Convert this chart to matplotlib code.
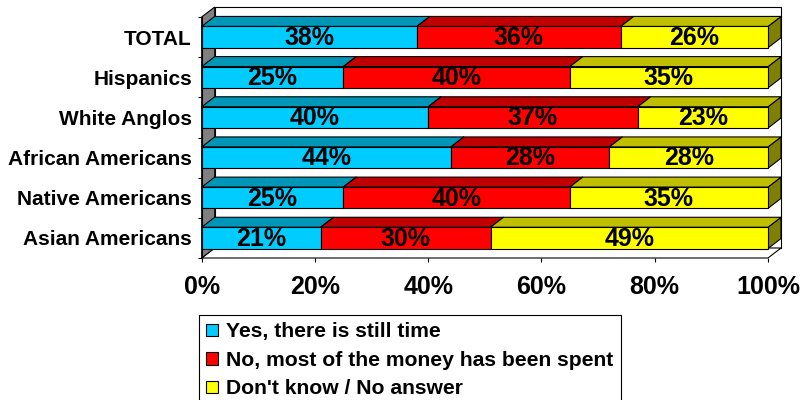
import numpy as np
import matplotlib
matplotlib.use('Agg')
from matplotlib import pyplot as plt
from matplotlib.patches import Polygon, Patch

plt.rcParams['font.family'] = ['Liberation Sans', 'DejaVu Sans']
plt.rcParams['font.weight'] = 'bold'

groups = ['TOTAL', 'Hispanics', 'White Anglos', 'African Americans',
          'Native Americans', 'Asian Americans']
yes_time = [38, 25, 40, 44, 25, 21]
no_spent = [36, 40, 37, 28, 40, 30]
dont_know = [26, 35, 23, 28, 35, 49]
series_names = ['Yes, there is still time',
                'No, most of the money has been spent',
                "Don't know / No answer"]
xticks = [0, 20, 40, 60, 80, 100]
xticklabels = ['0%', '20%', '40%', '60%', '80%', '100%']

front_cols = ['#00CCFF', '#FF0000', '#FFFF00']
top_cols = ['#0096B8', '#BF0000', '#BFBF00']
side_cols = ['#007799', '#800000', '#808000']

W, H = 801, 400
fig = plt.figure(figsize=(W/100.0, H/100.0), dpi=100)
x0, x1 = 201.7, 768.0   # pixel of 0% and 100% (front)
ytop, ybot = 17.0, 258.0
ax = fig.add_axes([x0/W, 1-ybot/H, (x1-x0)/W, (ybot-ytop)/H])
ax.set_xlim(0, 100)
ax.set_ylim(5.5, -0.5)

# depth of the 3d effect, in data units
dx = 13.0/(x1-x0)*100.0
dy = 10.0/((ybot-ytop)/6.0)
bh = 0.53  # bar front height

def poly(pts, fc, ec='black', lw=0.8, z=1):
    p = Polygon(pts, closed=True, facecolor=fc, edgecolor=ec, linewidth=lw,
                zorder=z, clip_on=False, joinstyle='miter')
    ax.add_patch(p)

yb, yt = 5.5, -0.5
# back wall, floor, left wall
poly([(dx, yt-dy), (100+dx, yt-dy), (100+dx, yb-dy), (dx, yb-dy)], 'white', z=0)
poly([(0, yb), (100, yb), (100+dx, yb-dy), (dx, yb-dy)], 'white', z=0)
poly([(0, yb), (0, yt), (dx, yt-dy), (dx, yb-dy)], '#808080', z=0)

data = np.array([yes_time, no_spent, dont_know])
for i in range(len(groups)):
    left = 0
    for k in range(3):
        v = data[k][i]
        r = left+v
        top = i-bh/2
        bot = i+bh/2
        z = 2+k
        poly([(r, top), (r+dx, top-dy), (r+dx, bot-dy), (r, bot)], side_cols[k], z=z)
        poly([(left, top), (left+dx, top-dy), (r+dx, top-dy), (r, top)], top_cols[k], z=z)
        poly([(left, top), (r, top), (r, bot), (left, bot)], front_cols[k], z=z)
        ax.text(left+v/2.0, i+0.02, '%d%%' % v, ha='center', va='center',
                fontsize=18, fontweight='bold', zorder=10)
        left = r

for s in ax.spines.values():
    s.set_visible(False)
ax.set_xticks(xticks)
ax.set_xticklabels(xticklabels, fontsize=18, fontweight='bold')
ax.tick_params(axis='x', length=3, width=0.8, pad=9)
ax.set_yticks(range(len(groups)))
ax.set_yticklabels(groups, fontsize=15, fontweight='bold')
ax.tick_params(axis='y', length=0, pad=7)
ax.set_yticks(np.arange(-0.5, 6.0, 1.0), minor=True)
ax.tick_params(axis='y', which='minor', length=3, width=0.8)
ax.plot([0, 0], [yb, yt], color='black', lw=0.8, clip_on=False, zorder=1)

handles = [Patch(facecolor=c, edgecolor='black', linewidth=0.8) for c in front_cols]
leg = fig.legend(handles, series_names, loc='upper left',
                 bbox_to_anchor=(199.0/W, 1-315.0/H), borderaxespad=0,
                 prop={'weight': 'bold', 'size': 15.2},
                 handlelength=0.55, handleheight=0.55, handletextpad=0.4,
                 labelspacing=0.45, borderpad=0.35, fancybox=False,
                 framealpha=1, edgecolor='black')
leg.get_frame().set_linewidth(0.8)

plt.savefig('out.png', dpi=100)
